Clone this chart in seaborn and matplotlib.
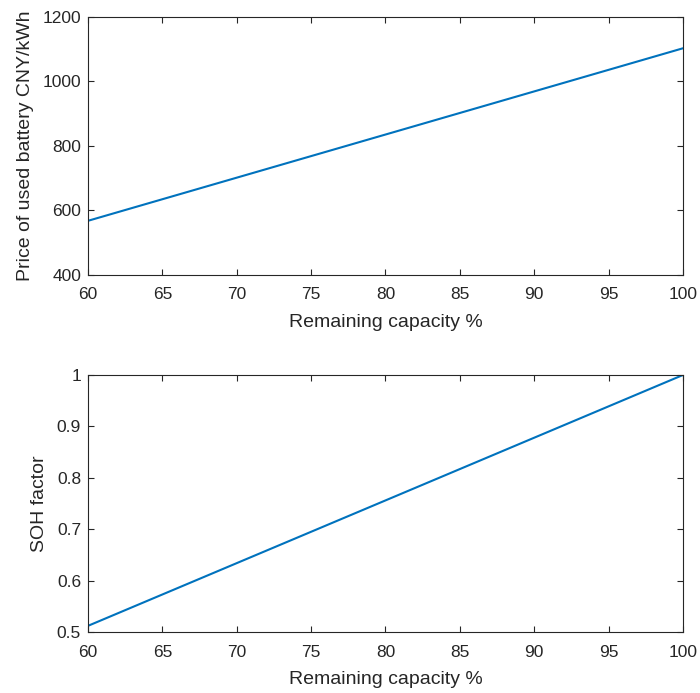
import matplotlib
matplotlib.use("Agg")
import matplotlib.pyplot as plt
import seaborn as sns
import pandas as pd

capacity = [60, 100]
price = [568, 1103]
soh = [0.512, 1.0]

xticks = [60, 65, 70, 75, 80, 85, 90, 95, 100]
price_ticks = [400, 600, 800, 1000, 1200]
soh_ticks = [0.5, 0.6, 0.7, 0.8, 0.9, 1.0]
soh_labels = ["0.5", "0.6", "0.7", "0.8", "0.9", "1"]

sns.set_style("ticks")
plt.rcParams['font.family'] = ['Liberation Sans', 'DejaVu Sans']
plt.rcParams['font.size'] = 12

df = pd.DataFrame({"cap": capacity, "price": price, "soh": soh})

fig = plt.figure(figsize=(7, 6.93), dpi=100)
ax1 = fig.add_axes([0.1257, 0.6032, 0.85, 0.3723])
ax2 = fig.add_axes([0.1257, 0.0880, 0.85, 0.3709])

color = "#0072BD"
text_col = "#262626"
sns.lineplot(data=df, x="cap", y="price", ax=ax1, color=color, linewidth=1.5)
sns.lineplot(data=df, x="cap", y="soh", ax=ax2, color=color, linewidth=1.5)

for ax in (ax1, ax2):
    ax.set_xlim(60, 100)
    ax.set_xticks(xticks)
    ax.set_xticklabels([str(v) for v in xticks])
    ax.set_xlabel("Remaining capacity %", fontsize=14, color=text_col, labelpad=8)
    ax.tick_params(direction="in", top=True, right=True, length=4, width=0.8,
                   colors=text_col, labelsize=12.5, labelcolor=text_col)
    ax.tick_params(axis="x", pad=9)
    ax.tick_params(axis="y", pad=5)
    for s in ax.spines.values():
        s.set_visible(True)
        s.set_color(text_col)
        s.set_linewidth(0.8)

ax1.set_ylim(400, 1200)
ax1.set_yticks(price_ticks)
ax1.set_yticklabels([str(v) for v in price_ticks])
ax1.set_ylabel("Price of used battery CNY/kWh", fontsize=14, color=text_col, labelpad=6)

ax2.set_ylim(0.5, 1.0)
ax2.set_yticks(soh_ticks)
ax2.set_yticklabels(soh_labels)
ax2.set_ylabel("SOH factor", fontsize=14, color=text_col, labelpad=6)

fig.savefig("out.png", dpi=100)
